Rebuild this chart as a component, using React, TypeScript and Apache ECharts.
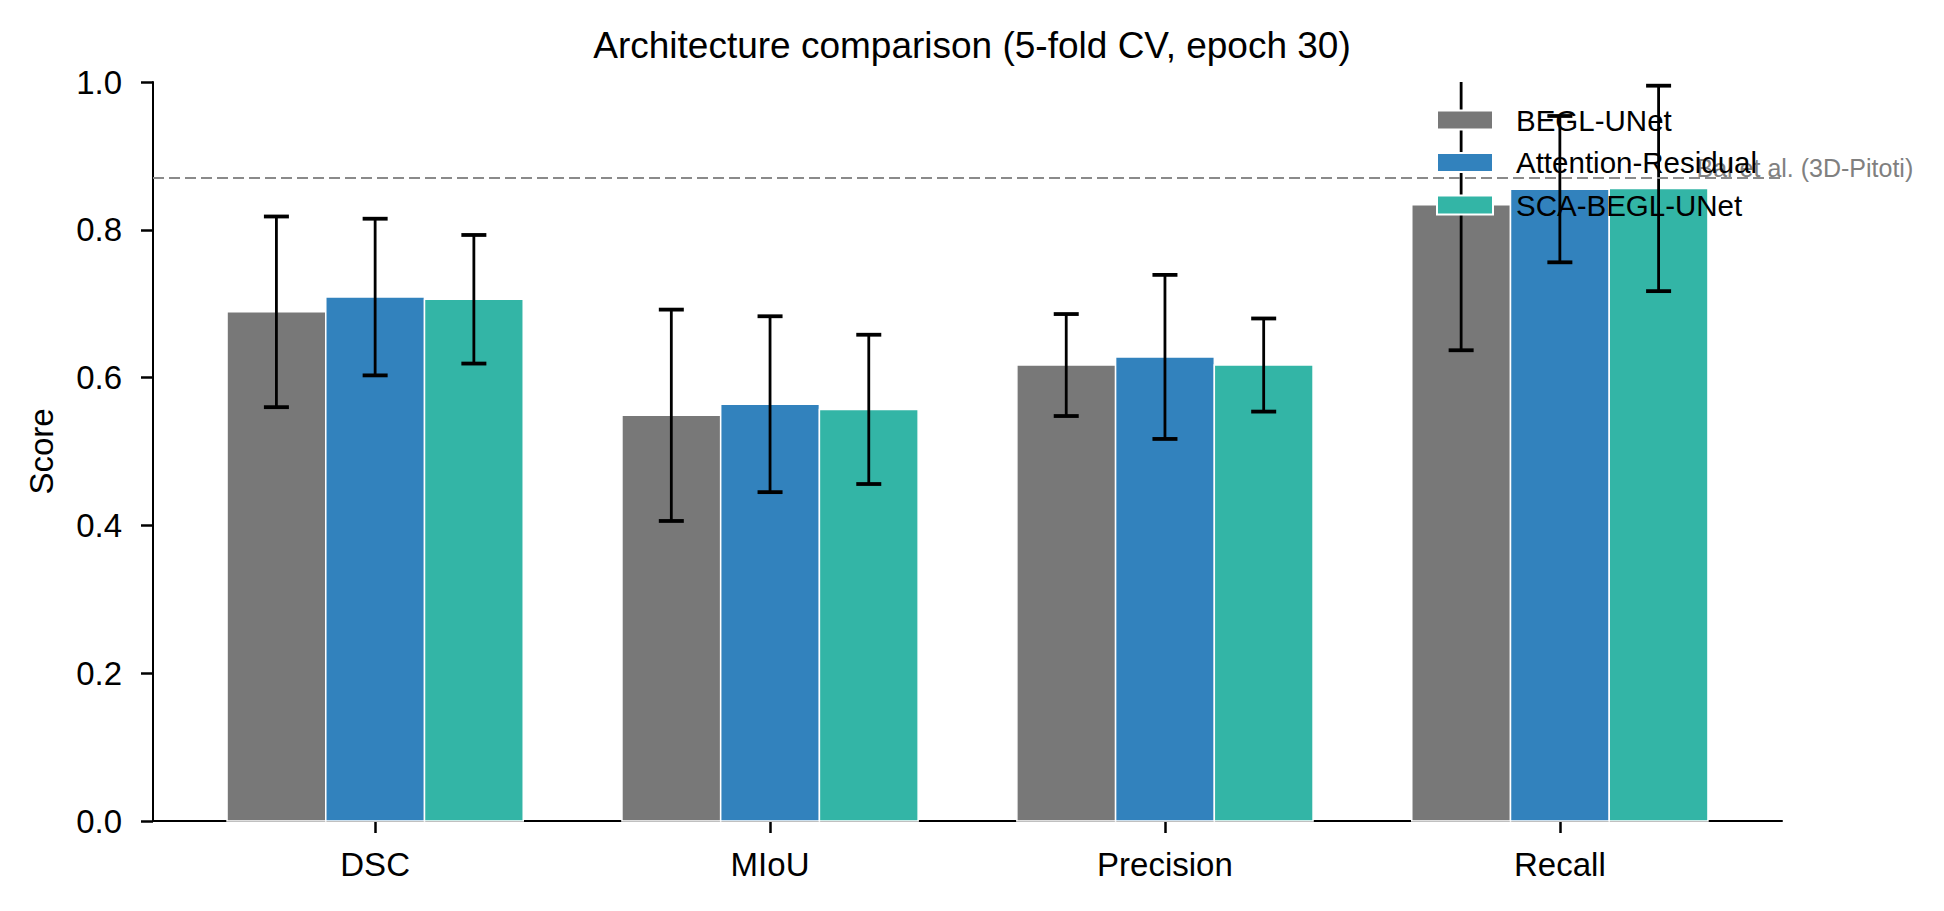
import React, { useEffect, useRef } from "react";
import * as echarts from "echarts";

const categories = ["DSC", "MIoU", "Precision", "Recall"];
const models = ["BEGL-UNet", "Attention-Residual", "SCA-BEGL-UNet"];
const colors = ["#787878", "#3282bd", "#33b5a6"];

const beglMean = [0.689, 0.549, 0.617, 0.834];
const beglErr = [0.129, 0.143, 0.069, 0.197];
const attnMean = [0.709, 0.564, 0.628, 0.855];
const attnErr = [0.106, 0.119, 0.111, 0.099];
const scaMean = [0.706, 0.557, 0.617, 0.856];
const scaErr = [0.087, 0.101, 0.063, 0.139];

const means = [beglMean, attnMean, scaMean];
const errs = [beglErr, attnErr, scaErr];

const referenceValue = 0.866;
const referenceLabel = "Bal et al. (3D-Pitoti)";

const FONT = "'Liberation Sans', Arial, Helvetica, sans-serif";
const BAR_W = 0.25;
const OFFSETS = [-0.25, 0, 0.25];
const ANNOT_X = 3.346;

export default function App() {
  const ref = useRef<HTMLDivElement>(null);

  useEffect(() => {
    if (!ref.current) return;
    const chart = echarts.init(ref.current, null, { renderer: "svg" });

    const barSeries = models.map((m, k) => ({
      name: m,
      type: "custom",
      z: 2,
      itemStyle: { color: colors[k] },
      data: categories.map((_, i) => [i, means[k][i]]),
      encode: { x: 0, y: 1 },
      renderItem: (params: any, api: any) => {
        const cat = api.value(0);
        const v = api.value(1);
        const x0 = cat + OFFSETS[k] - BAR_W / 2;
        const p0 = api.coord([x0, v]);
        const p1 = api.coord([x0 + BAR_W, 0]);
        return {
          type: "rect",
          shape: { x: p0[0], y: p0[1], width: p1[0] - p0[0], height: p1[1] - p0[1] },
          style: { fill: colors[k], stroke: "#ffffff", lineWidth: 1.5 },
        };
      },
      ...(k === 0
        ? {
            markLine: {
              silent: true,
              symbol: ["none", "none"],
              label: { show: false },
              lineStyle: { color: "#8a8a8a", type: [11, 5], width: 2 },
              data: [{ yAxis: referenceValue }],
            },
          }
        : {}),
    }));

    const errSeries = models.map((m, k) => ({
      name: m + "-err",
      type: "custom",
      z: 3,
      clip: true,
      data: categories.map((_, i) => [i, means[k][i], errs[k][i]]),
      encode: { x: 0, y: 1 },
      renderItem: (params: any, api: any) => {
        const cat = api.value(0);
        const v = api.value(1);
        const e = api.value(2);
        const x = cat + OFFSETS[k];
        const top = api.coord([x, v + e]);
        const bot = api.coord([x, v - e]);
        const cap = 12.5;
        const st = { stroke: "#000000", lineWidth: 2.8 };
        const cs = { stroke: "#000000", lineWidth: 3.8 };
        return {
          type: "group",
          children: [
            { type: "line", shape: { x1: top[0], y1: top[1], x2: bot[0], y2: bot[1] }, style: st },
            { type: "line", shape: { x1: top[0] - cap, y1: top[1], x2: top[0] + cap, y2: top[1] }, style: cs },
            { type: "line", shape: { x1: bot[0] - cap, y1: bot[1], x2: bot[0] + cap, y2: bot[1] }, style: cs },
          ],
        };
      },
    }));

    const annotSeries = {
      name: "annotation",
      type: "custom",
      z: 1,
      clip: false,
      silent: true,
      data: [[ANNOT_X, referenceValue]],
      encode: { x: 0, y: 1 },
      renderItem: (params: any, api: any) => {
        const p = api.coord([api.value(0), api.value(1)]);
        return {
          type: "text",
          x: p[0],
          y: p[1] - 1,
          style: {
            text: referenceLabel,
            fill: "#808080",
            font: `25px ${FONT}`,
            align: "left",
            verticalAlign: "bottom",
          },
        };
      },
    };

    const option: any = {
      animation: false,
      backgroundColor: "#ffffff",
      textStyle: { fontFamily: FONT },
      title: {
        text: "Architecture comparison (5-fold CV, epoch 30)",
        left: "center",
        top: 22,
        textStyle: { fontFamily: FONT, fontSize: 37, fontWeight: "normal", color: "#000" },
      },
      legend: {
        orient: "vertical",
        left: 1436,
        top: 105,
        padding: 0,
        itemWidth: 56,
        itemHeight: 19,
        itemGap: 12.5,
        icon: "rect",
        selectedMode: false,
        textStyle: { fontFamily: FONT, fontSize: 29.5, color: "#000", padding: [0, 0, 0, 18], lineHeight: 30 },
        data: models.map((m, k) => ({
          name: m,
          itemStyle: { color: colors[k], borderColor: "#ffffff", borderWidth: 2 },
        })),
      },
      grid: { left: 153, right: 162, top: 82, bottom: 90 },
      xAxis: {
        type: "value",
        min: -0.5625,
        max: 3.5625,
        splitLine: { show: false },
        axisLine: { show: true, onZero: false, lineStyle: { color: "#000", width: 2 } },
        axisTick: {
          show: true,
          length: 12,
          lineStyle: { color: "#000", width: 2.5 },
          customValues: [0, 1, 2, 3],
        },
        axisLabel: {
          customValues: [0, 1, 2, 3],
          formatter: (v: number) => categories[Math.round(v)] ?? "",
          fontFamily: FONT,
          fontSize: 33,
          color: "#000",
          margin: 27,
        },
      },
      yAxis: {
        type: "value",
        min: 0,
        max: 1,
        interval: 0.2,
        name: "Score",
        nameLocation: "middle",
        nameGap: 95,
        nameRotate: 90,
        nameTextStyle: { fontFamily: FONT, fontSize: 33, color: "#000" },
        splitLine: { show: false },
        axisLine: { show: true, onZero: false, lineStyle: { color: "#000", width: 2 } },
        axisTick: { show: true, length: 12, lineStyle: { color: "#000", width: 2.5 } },
        axisLabel: {
          formatter: (v: number) => v.toFixed(1),
          fontFamily: FONT,
          fontSize: 33,
          color: "#000",
          margin: 31,
        },
      },
      series: [...barSeries, ...errSeries, annotSeries],
    };

    chart.setOption(option);
    return () => chart.dispose();
  }, []);

  return (
    <div
      ref={ref}
      style={{ position: "absolute", left: 0, top: 0, width: 1944, height: 911, background: "#fff" }}
    />
  );
}
